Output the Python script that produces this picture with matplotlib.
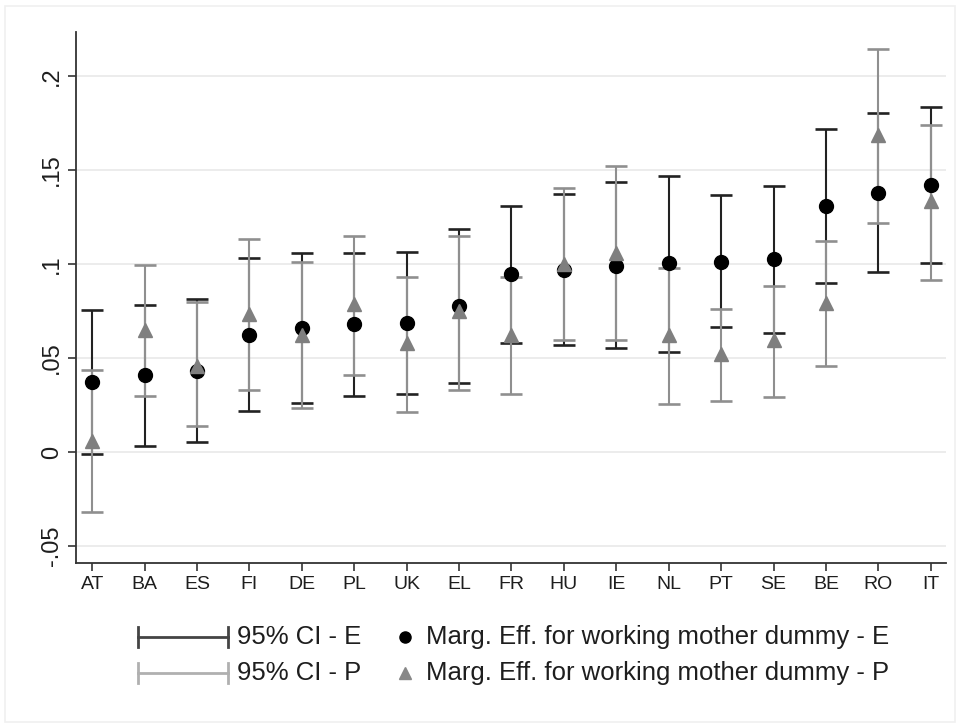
import matplotlib
matplotlib.use("Agg")
import matplotlib.pyplot as plt
from matplotlib.lines import Line2D
from matplotlib.patches import Rectangle
import numpy as np

plt.rcParams['font.family'] = ['Liberation Sans', 'DejaVu Sans']

# Countries and estimates
countries = ['AT', 'BA', 'ES', 'FI', 'DE', 'PL', 'UK', 'EL', 'FR',
             'HU', 'IE', 'NL', 'PT', 'SE', 'BE', 'RO', 'IT']

# E: marginal effect and 95% CI
eff_e = [0.037, 0.041, 0.043, 0.0625, 0.066, 0.068, 0.0688, 0.0777, 0.0947,
         0.097, 0.099, 0.1008, 0.1013, 0.1027, 0.131, 0.138, 0.142]
lo_e = [-0.0013, 0.0034, 0.0053, 0.0218, 0.026, 0.030, 0.031, 0.0367, 0.0578,
        0.057, 0.0553, 0.0534, 0.0663, 0.0634, 0.090, 0.096, 0.1008]
hi_e = [0.0754, 0.078, 0.0814, 0.103, 0.106, 0.106, 0.1066, 0.1188, 0.131,
        0.137, 0.1434, 0.147, 0.1366, 0.1417, 0.172, 0.1805, 0.1835]

# P: marginal effect and 95% CI
eff_p = [0.006, 0.065, 0.046, 0.0735, 0.0625, 0.0786, 0.058, 0.0748, 0.0625,
         0.100, 0.106, 0.0625, 0.052, 0.0597, 0.0795, 0.1686, 0.1335]
lo_p = [-0.032, 0.030, 0.0138, 0.033, 0.0235, 0.041, 0.0214, 0.0331, 0.031,
        0.0597, 0.0595, 0.0256, 0.027, 0.0294, 0.046, 0.1216, 0.0913]
hi_p = [0.0436, 0.0994, 0.080, 0.1133, 0.101, 0.115, 0.093, 0.115, 0.093,
        0.1405, 0.152, 0.098, 0.0763, 0.0883, 0.112, 0.2146, 0.174]

yticks = [-0.05, 0, 0.05, 0.1, 0.15, 0.2]
ytick_labels = ['-.05', '0', '.05', '.1', '.15', '.2']

DARK = '#222222'
GREY = '#8f8f8f'


def main():
    fig = plt.figure(figsize=(9.59, 7.27), dpi=100)
    ax = fig.add_axes([0.0792, 0.2256, 0.9072, 0.7304])

    x = np.arange(len(countries))
    eff_e_a, lo_e_a, hi_e_a = map(np.array, (eff_e, lo_e, hi_e))
    eff_p_a, lo_p_a, hi_p_a = map(np.array, (eff_p, lo_p, hi_p))

    # confidence intervals
    ax.errorbar(x, eff_e_a, yerr=[eff_e_a - lo_e_a, hi_e_a - eff_e_a], fmt='none',
                ecolor=DARK, elinewidth=1.5, capsize=8, capthick=1.9, zorder=2)
    ax.errorbar(x, eff_p_a, yerr=[eff_p_a - lo_p_a, hi_p_a - eff_p_a], fmt='none',
                ecolor=GREY, elinewidth=1.5, capsize=8, capthick=1.9, zorder=3)

    # point estimates
    ax.plot(x, eff_e_a, 'o', color='black', markersize=10, zorder=4)
    ax.plot(x, eff_p_a, '^', color='#7f7f7f', markersize=10.5, zorder=5)

    ax.set_xlim(-0.31, 16.29)
    ax.set_ylim(-0.059, 0.2234)
    ax.set_xticks(x)
    ax.set_xticklabels(countries, fontsize=14)
    ax.set_yticks(yticks)
    ax.set_yticklabels(ytick_labels, fontsize=17, rotation=90, va='center')
    ax.tick_params(axis='both', direction='out', length=5.5, width=1.2,
                   colors='#333333', labelcolor='#1e1e1e')
    ax.tick_params(axis='y', pad=4)
    ax.tick_params(axis='x', pad=4)

    ax.grid(axis='y', color='#e9e9e9', linewidth=1.2)
    ax.set_axisbelow(True)
    for side in ['top', 'right']:
        ax.spines[side].set_visible(False)
    for side in ['left', 'bottom']:
        ax.spines[side].set_color('#333333')
        ax.spines[side].set_linewidth(1.3)

    # legend drawn by hand, in figure pixels
    W, H = 959.0, 727.0

    def fx(px):
        return px / W

    def fy(py):
        return 1 - py / H

    rows = [(637, '#444444', '95% CI - E', 'o', 'black',
             'Marg. Eff. for working mother dummy - E'),
            (673, '#b0b0b0', '95% CI - P', '^', '#888888',
             'Marg. Eff. for working mother dummy - P')]
    for py, lc, ci_txt, mk, mc, eff_txt in rows:
        fig.add_artist(Line2D([fx(138), fx(228)], [fy(py), fy(py)],
                              color=lc, lw=2, transform=fig.transFigure))
        for ex in (138, 228):
            fig.add_artist(Line2D([fx(ex), fx(ex)], [fy(py - 10), fy(py + 10)],
                                  color=lc, lw=2, transform=fig.transFigure))
        fig.text(fx(237), fy(py), ci_txt, fontsize=18.5, va='center', ha='left',
                 color='#1e1e1e')
        fig.add_artist(Line2D([fx(405)], [fy(py)], marker=mk, color=mc,
                              markersize=8 if mk == 'o' else 8.5, linestyle='none',
                              transform=fig.transFigure))
        fig.text(fx(426), fy(py), eff_txt, fontsize=18.5, va='center', ha='left',
                 color='#1e1e1e')

    # faint outer frame
    fig.add_artist(Rectangle((fx(5), fy(722)), fx(950), 716 / H, fill=False,
                             edgecolor='#f0f0f0', lw=1.2,
                             transform=fig.transFigure))

    fig.savefig('out.png', dpi=100)


if __name__ == "__main__":
    main()
